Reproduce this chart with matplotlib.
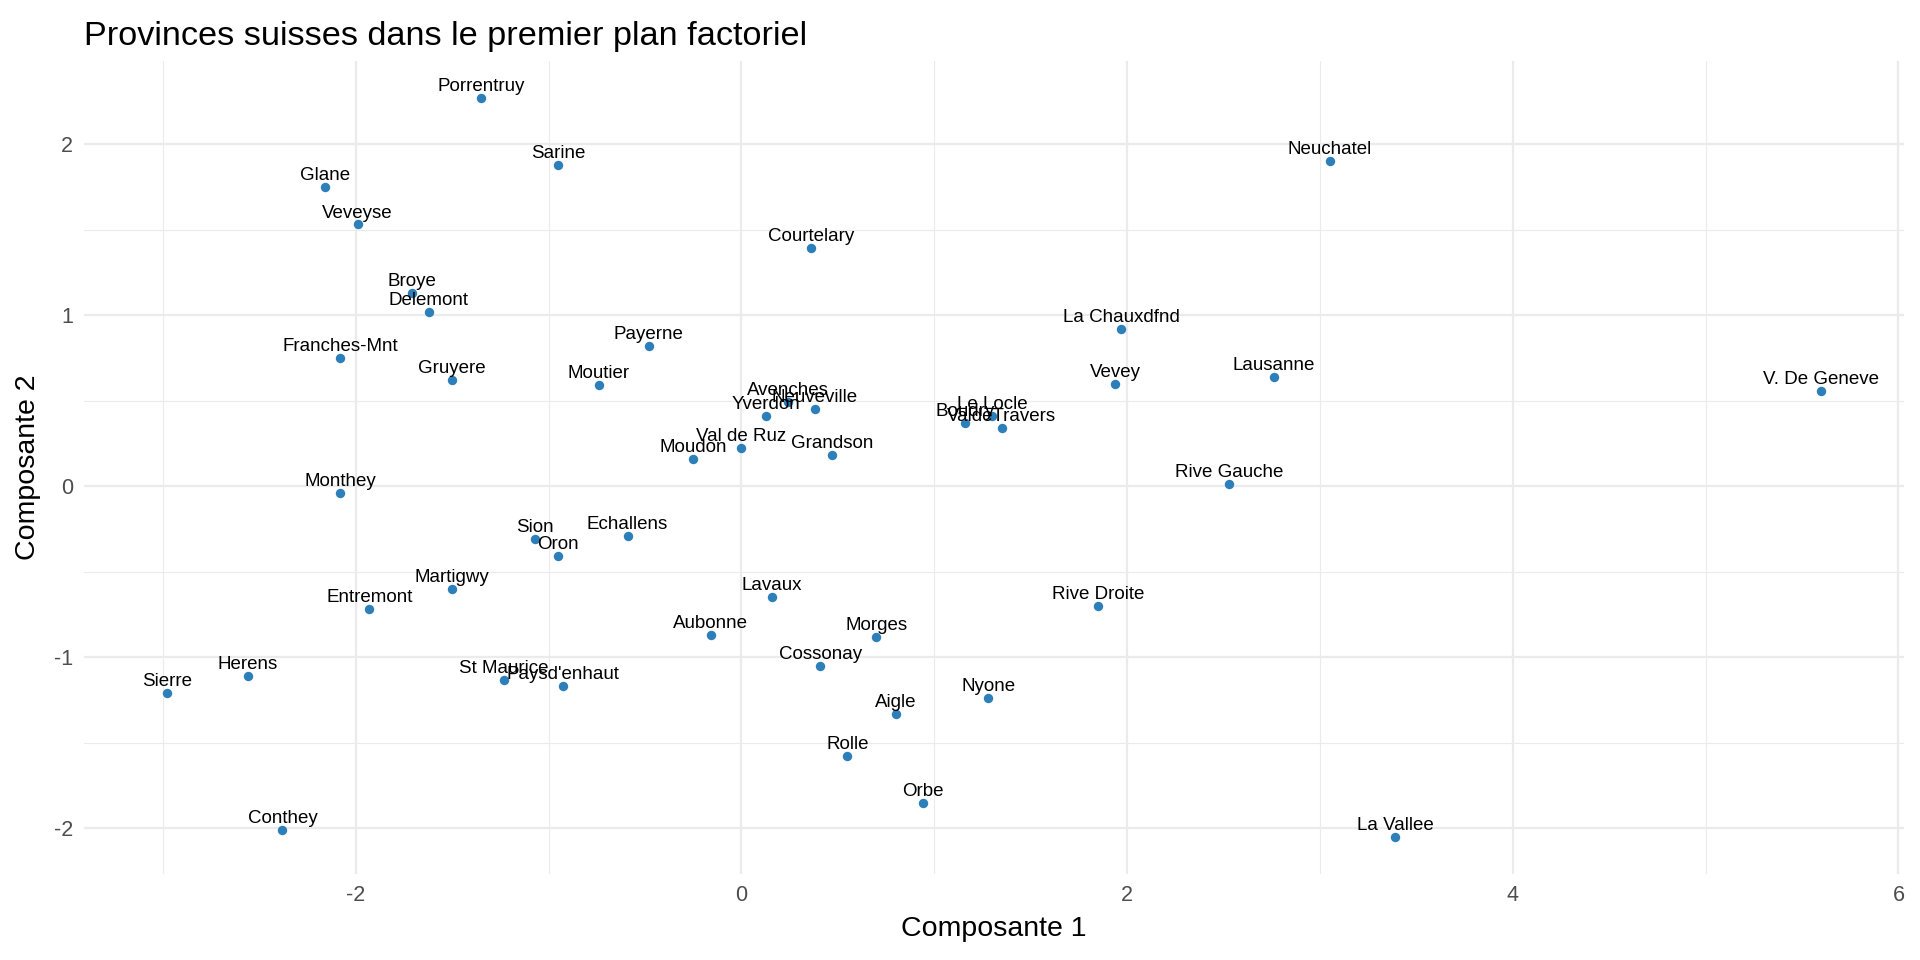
import numpy as np
import matplotlib.pyplot as plt
from matplotlib.ticker import MultipleLocator

# province names and their coordinates on the first two components
provinces = ["Courtelary", "Delemont", "Franches-Mnt", "Moutier", "Neuveville",
             "Porrentruy", "Broye", "Glane", "Gruyere", "Sarine", "Veveyse",
             "Aigle", "Aubonne", "Avenches", "Cossonay", "Echallens", "Grandson",
             "Lausanne", "La Vallee", "Lavaux", "Morges", "Moudon", "Nyone",
             "Orbe", "Oron", "Payerne", "Paysd'enhaut", "Rolle", "Vevey",
             "Yverdon", "Conthey", "Entremont", "Herens", "Martigwy", "Monthey",
             "St Maurice", "Sierre", "Sion", "Boudry", "La Chauxdfnd", "Le Locle",
             "Neuchatel", "Val de Ruz", "ValdeTravers", "V. De Geneve",
             "Rive Droite", "Rive Gauche"]

comp1 = [0.36, -1.62, -2.08, -0.74, 0.38,
         -1.35, -1.71, -2.16, -1.50, -0.95, -1.99,
         0.80, -0.16, 0.24, 0.41, -0.59, 0.47,
         2.76, 3.39, 0.16, 0.70, -0.25, 1.28,
         0.94, -0.95, -0.48, -0.925, 0.55, 1.94,
         0.13, -2.38, -1.93, -2.56, -1.50, -2.08,
         -1.23, -2.98, -1.07, 1.16, 1.97, 1.30,
         3.05, 0.00, 1.35, 5.60,
         1.85, 2.53]

comp2 = [1.39, 1.02, 0.75, 0.59, 0.45,
         2.27, 1.13, 1.75, 0.62, 1.88, 1.53,
         -1.33, -0.87, 0.49, -1.05, -0.29, 0.18,
         0.64, -2.05, -0.65, -0.88, 0.16, -1.24,
         -1.85, -0.41, 0.82, -1.17, -1.58, 0.60,
         0.41, -2.01, -0.72, -1.11, -0.60, -0.04,
         -1.135, -1.21, -0.31, 0.37, 0.92, 0.41,
         1.90, 0.225, 0.34, 0.557,
         -0.70, 0.01]

plt.rcParams['font.family'] = ['Liberation Sans', 'DejaVu Sans']
plt.rcParams['axes.unicode_minus'] = False

fig = plt.figure(figsize=(19.2, 9.6), dpi=100)
ax = fig.add_axes([0.04375, 0.0899, 0.9479, 0.8466])

x = np.array(comp1)
y = np.array(comp2)

ax.scatter(x, y, s=46, color="#2C7FB8", zorder=3, linewidths=0)
for name, xi, yi in zip(provinces, x, y):
    ax.annotate(name, (xi, yi), xytext=(0, 5), textcoords="offset points",
                ha="center", va="baseline", fontsize=13.5, color="black", zorder=4)

# ggplot-like 5% expansion
xr = x.max() - x.min()
yr = y.max() - y.min()
ax.set_xlim(x.min() - 0.05 * xr, x.max() + 0.05 * xr)
ax.set_ylim(y.min() - 0.05 * yr, y.max() + 0.05 * yr)

ax.xaxis.set_major_locator(MultipleLocator(2))
ax.xaxis.set_minor_locator(MultipleLocator(1))
ax.yaxis.set_major_locator(MultipleLocator(1))
ax.yaxis.set_minor_locator(MultipleLocator(0.5))

ax.grid(which="major", color="#EBEBEB", linewidth=1.6)
ax.grid(which="minor", color="#EBEBEB", linewidth=0.8)
ax.set_axisbelow(True)
for s in ax.spines.values():
    s.set_visible(False)
ax.tick_params(which="both", length=0, labelsize=15.5, labelcolor="#4D4D4D", pad=8)

ax.set_xlabel("Composante 1", fontsize=20.5, labelpad=7)
ax.set_ylabel("Composante 2", fontsize=20.5, labelpad=9)
fig.text(0.0438, 0.962, "Provinces suisses dans le premier plan factoriel",
         fontsize=24.7, ha="left", va="center")

fig.savefig("out.png", dpi=100, facecolor="white")
